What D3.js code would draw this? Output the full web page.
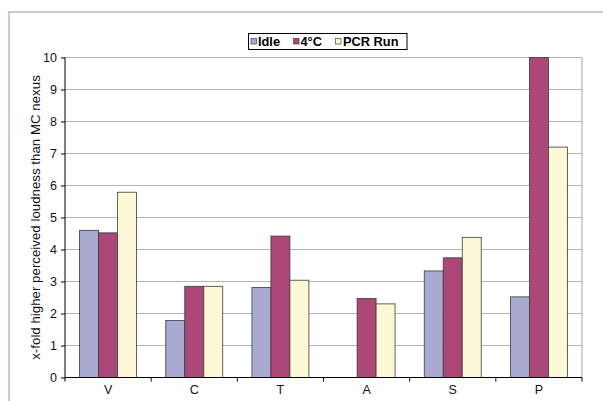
<!DOCTYPE html>
<html><head><meta charset="utf-8">
<script src="https://cdn.jsdelivr.net/npm/d3@7"></script>
<style>body{margin:0;background:#fff}svg{display:block}text{font-family:"Liberation Sans",Arial,Helvetica,sans-serif}</style>
</head><body>
<svg id="c" width="603" height="401"></svg>
<script>
const categories = ["V","C","T","A","S","P"];
const seriesNames = ["Idle","4°C","PCR Run"];
const idle = [4.60, 1.78, 2.81, 0, 3.33, 2.52];
const cold = [4.52, 2.85, 4.42, 2.47, 3.74, 10];
const pcr  = [5.79, 2.85, 3.04, 2.30, 4.38, 7.20];
const yTicks = [0,1,2,3,4,5,6,7,8,9,10];
const colors = ["#a9a9d2","#ab4877","#fcf8d6"];
const series = [idle, cold, pcr];

const svg = d3.select("#c");
const L = 65, R = 582, T = 57.5, B = 377.5;

// outer frame
svg.append("path").attr("d","M9,401 V12 H603").attr("fill","none").attr("stroke","#cbcbcb").attr("stroke-width",2.2);

const x0 = d3.scaleBand().domain(categories).range([L,R]).paddingInner(0.339).paddingOuter(0.1695);
const x1 = d3.scaleBand().domain(seriesNames).range([0,x0.bandwidth()]);
const y = d3.scaleLinear().domain([0,10]).range([B,T]);

// gridlines
svg.append("g").selectAll("line").data(yTicks.filter(d=>d>0)).join("line")
  .attr("x1",L).attr("x2",R).attr("y1",d=>y(d)).attr("y2",d=>y(d))
  .attr("stroke","#b4b4b4").attr("stroke-width",1);
// right border
svg.append("line").attr("x1",R).attr("x2",R).attr("y1",T).attr("y2",B).attr("stroke","#a8a8a8");

// bars
const g = svg.append("g");
categories.forEach((c,i)=>{
  series.forEach((s,j)=>{
    const v = s[i];
    if (v <= 0) return;
    g.append("rect")
      .attr("x", x0(c)+x1(seriesNames[j]))
      .attr("y", y(v))
      .attr("width", x1.bandwidth())
      .attr("height", y(0)-y(v))
      .attr("fill", colors[j])
      .attr("stroke","#3a3a3a").attr("stroke-width",0.8);
  });
});

// y axis
const ya = svg.append("g").attr("transform",`translate(${L},0)`)
  .call(d3.axisLeft(y).tickValues(yTicks).tickSize(4).tickPadding(4).tickFormat(d3.format("d")));
ya.select(".domain").attr("stroke","#000").attr("d",`M-0,${T}V${B}`);
ya.selectAll("text").attr("font-size",12.5).attr("fill","#111");
ya.selectAll(".tick line").attr("stroke","#000");

// x axis
const xa = svg.append("g").attr("transform",`translate(0,${B})`);
xa.append("line").attr("x1",L).attr("x2",R).attr("stroke","#000");
const bounds = categories.map(c=>x0(c)-x0.step()*0.1695).concat([R]);
xa.selectAll("line.t").data(bounds).join("line").attr("class","t")
  .attr("x1",d=>d).attr("x2",d=>d).attr("y1",0).attr("y2",4).attr("stroke","#000");
xa.selectAll("text").data(categories).join("text")
  .attr("x",d=>x0(d)+x0.bandwidth()/2).attr("y",16).attr("text-anchor","middle")
  .attr("font-size",12.5).attr("fill","#111").text(d=>d);

// y label
svg.append("text").attr("transform",`translate(40,${(T+B)/2}) rotate(-90)`)
  .attr("text-anchor","middle").attr("font-size",13.3).attr("fill","#111")
  .text("x-fold higher perceived loudness than MC nexus");

// legend
const lg = svg.append("g");
lg.append("rect").attr("x",248.5).attr("y",33.5).attr("width",158.5).attr("height",16)
  .attr("fill","#fff").attr("stroke","#000").attr("stroke-width",1);
const lx = [251, 293.5, 335.5];
const tx = [258, 300.5, 343];
seriesNames.forEach((n,i)=>{
  lg.append("rect").attr("x",lx[i]).attr("y",38.5).attr("width",5.5).attr("height",5.5)
    .attr("fill",colors[i]).attr("stroke","#444").attr("stroke-width",0.7);
  lg.append("text").attr("x",tx[i]).attr("y",46.2).attr("font-size",12.8).attr("font-weight","bold")
    .attr("fill","#000").text(n);
});
</script>
</body></html>
